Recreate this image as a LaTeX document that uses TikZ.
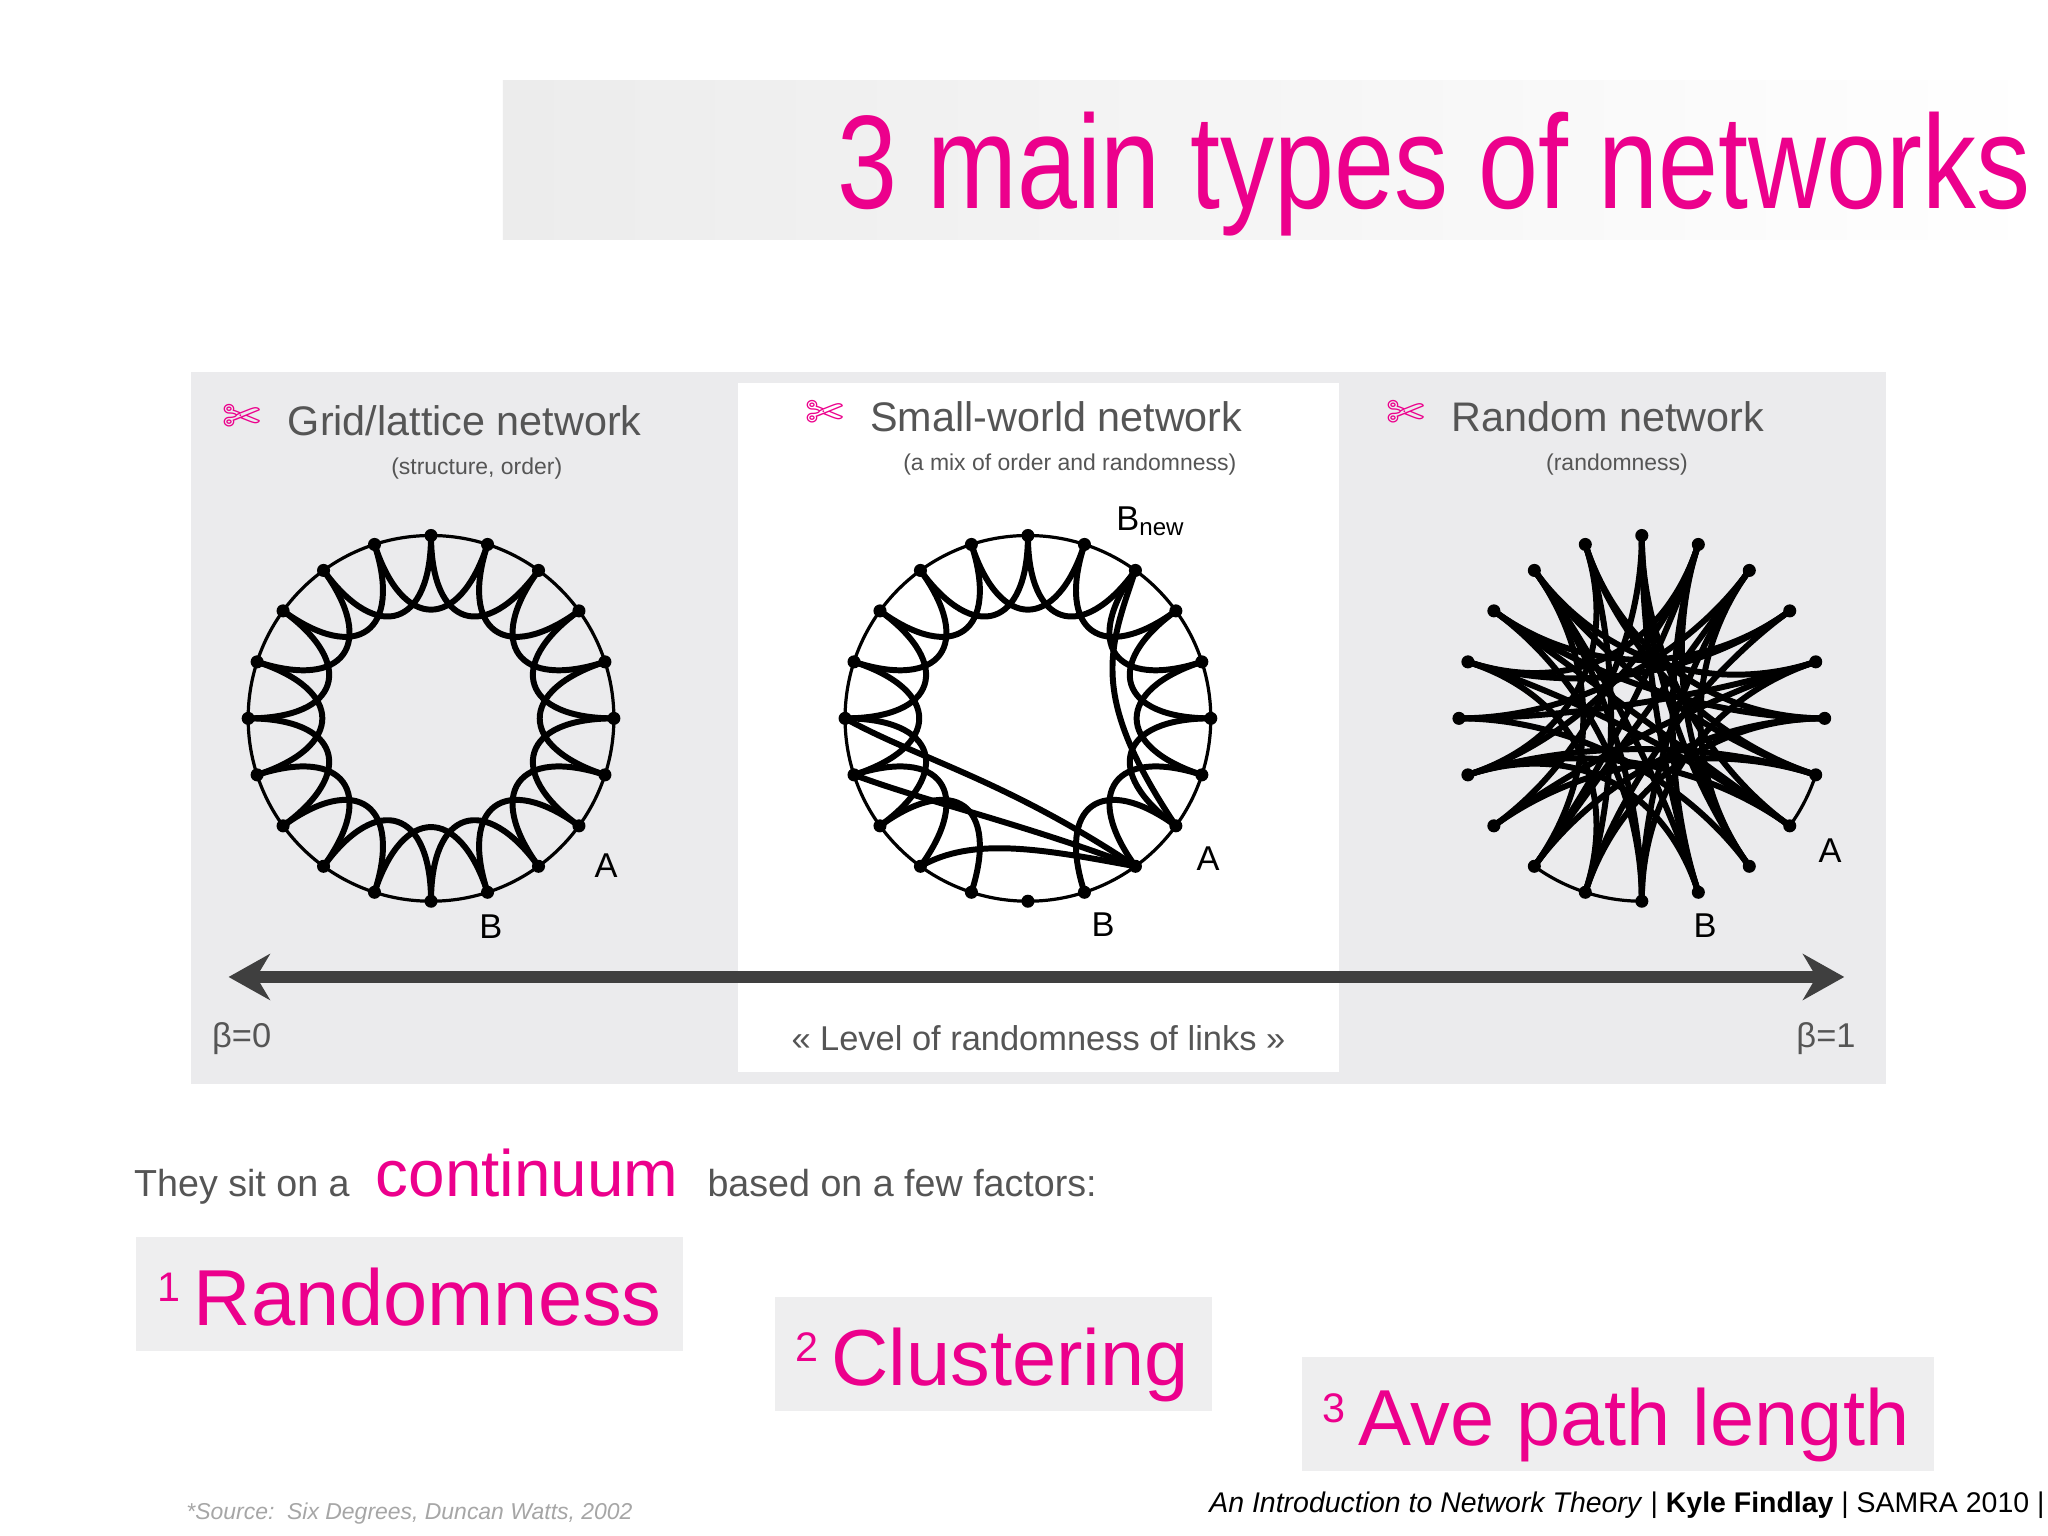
\documentclass[tikz,border=0pt]{standalone}
\usepackage{fontspec}
\setmainfont{Liberation Sans}
\newfontfamily\dejavu{DejaVu Sans}
\usetikzlibrary{arrows.meta}
\definecolor{mag}{HTML}{EC008C}
\definecolor{txt}{HTML}{555555}
\definecolor{panel}{HTML}{EBEBED}
\definecolor{boxg}{HTML}{EEEEEF}
\definecolor{arr}{HTML}{3F3F3F}
\tikzset{
  ring/.style={line width=0.7pt},
  lp/.style={line width=1.3pt},
  head/.style={font=\fontsize{9}{10}\selectfont, text=txt, anchor=west},
  sub/.style={font=\fontsize{5}{6}\selectfont, text=txt},
  lab/.style={font=\fontsize{7.5}{8}\selectfont}
}
\newcommand{\scis}{{\dejavu\color{mag}\fontsize{10}{10}\selectfont ✄}}
\newcommand{\fnum}[1]{\raisebox{0.3em}{\fontsize{9}{9}\selectfont #1}\,}
\begin{document}
\begin{tikzpicture}
\useasboundingbox[fill=white] (0,0) rectangle (15.68,-11.76);
% title band
\shade[left color=gray!15, right color=white] (3.85,-0.62) rectangle (15.68,-1.83);
\node[anchor=base east, inner sep=0pt, text=mag, font=\fontsize{29}{29}\selectfont] (title) at (15.55,-1.60) {\scalebox{0.81}[1]{3 main types of networks}};
% panel
\fill[panel] (1.46,-2.85) rectangle (14.44,-8.30);
\fill[white] (5.65,-2.93) rectangle (10.25,-8.21);
% headings
\node[anchor=west] (s1) at (1.58,-3.20) {\scis};
\node[head] (h1) at (2.08,-3.22) {Grid/lattice network};
\node[sub] (u1) at (3.65,-3.59) {(structure, order)};
\node[anchor=west] (s2) at (6.04,-3.17) {\scis};
\node[head] (h2) at (6.54,-3.19) {Small-world network};
\node[sub] (u2) at (8.19,-3.56) {(a mix of order and randomness)};
\node[anchor=west] (s3) at (10.49,-3.17) {\scis};
\node[head] (h3) at (10.99,-3.19) {Random network};
\node[sub] (u3) at (12.38,-3.56) {(randomness)};
\def\R{1.4}
% lattice
\begin{scope}[shift={(3.30,-5.50)}]
\draw[ring] (0,0) circle (\R);
\foreach \k in {0,...,19}{\pgfmathsetmacro\a{90+18*\k}\pgfmathsetmacro\b{\a+36}
  \draw[lp] (\a:\R) .. controls (\a:0.7) and (\b:0.7) .. (\b:\R);}
\foreach \k in {0,...,19}{\fill (90+18*\k:\R) circle (0.05);}
\node[lab] (A1) at (-40:1.75) {A};
\node[lab] (B1) at (-74:1.66) {B};
\end{scope}
% small world
\begin{scope}[shift={(7.87,-5.50)}]
\draw[ring] (0,0) circle (\R);
\foreach \k in {0,...,7,11,12,13,14,15,16,17,18,19}{\pgfmathsetmacro\a{90+18*\k}\pgfmathsetmacro\b{\a+36}
  \draw[lp] (\a:\R) .. controls (\a:0.7) and (\b:0.7) .. (\b:\R);}
\draw[lp] (306:\R) .. controls (250:0.5) and (200:0.9) .. (180:\R);
\draw[lp] (306:\R) .. controls (265:0.8) and (220:1.0) .. (198:\R);
\draw[lp] (306:\R) .. controls (275:1.0) and (245:1.0) .. (234:\R);
\draw[lp] (324:\R) .. controls (20:0.5) and (40:0.8) .. (54:\R);
\foreach \k in {0,...,19}{\fill (90+18*\k:\R) circle (0.05);}
\node[lab] (A2) at (-38:1.75) {A};
\node[lab] (B2) at (-70:1.68) {B};
\node[lab] (Bn) at (58:1.78) {B\textsubscript{new}};
\end{scope}
% random
\begin{scope}[shift={(12.57,-5.50)}]
\foreach \p/\q in {0/7,0/12,1/9,1/14,2/11,2/16,3/10,3/15,4/13,4/17,5/12,5/18,6/14,6/19,7/16,8/15,8/19,9/17,10/18,11/19,13/0,2/8,12/18,6/11,1/6,3/13,4/9,7/14,9/15,10/16,12/19,14/2,15/1,16/5,17/3,18/8,19/4,11/0,13/6,10/2}{
  \pgfmathsetmacro\a{90+18*\p}\pgfmathsetmacro\b{90+18*\q}
  \draw[lp] (\a:\R) .. controls (\a:0.55) and (\b:0.55) .. (\b:\R);}
\draw[ring] (-126:\R) arc (-126:-90:\R);
\draw[ring] (-36:\R) arc (-36:-18:\R);
\foreach \k in {0,...,19}{\fill (90+18*\k:\R) circle (0.05);}
\node[lab] (A3) at (-35:1.76) {A};
\node[lab] (B3) at (-73:1.66) {B};
\end{scope}
% continuum arrow
\coordinate (L) at (1.75,-7.48);
\coordinate (Rr) at (14.12,-7.48);
\draw[arr, line width=2.6pt, {Stealth[length=9pt,width=10pt]}-{Stealth[length=9pt,width=10pt]}] (L) -- (Rr);
\node[lab, text=txt] (b0) at (1.85,-7.95) {β=0};
\node[lab, text=txt] (b1) at (13.98,-7.95) {β=1};
\node[lab, text=txt] (lvl) at (7.95,-7.95) {\textless\textless{} Level of randomness of links \textgreater\textgreater};
% continuum text
\node[anchor=base west, inner sep=0pt, text=txt, font=\fontsize{8.2}{9}\selectfont] (t1) at (1.02,-9.16) {They sit on a};
\node[anchor=base west, inner sep=0pt, text=mag, font=\fontsize{14.3}{16}\selectfont] (t2) at (2.87,-9.16) {continuum};
\node[anchor=base west, inner sep=0pt, text=txt, font=\fontsize{8.2}{9}\selectfont] (t3) at (5.41,-9.16) {based on a few factors:};
% factor boxes
\fill[boxg] (1.04,-9.47) rectangle (5.23,-10.34);
\fill[boxg] (5.93,-9.93) rectangle (9.28,-10.80);
\fill[boxg] (9.97,-10.39) rectangle (14.81,-11.26);
\node[anchor=base west, inner sep=0pt, text=mag, font=\fontsize{17.3}{18}\selectfont] (f1) at (1.20,-10.15) {\fnum{1}Randomness};
\node[anchor=base west, inner sep=0pt, text=mag, font=\fontsize{17.3}{18}\selectfont] (f2) at (6.08,-10.61) {\fnum{2}Clustering};
\node[anchor=base west, inner sep=0pt, text=mag, font=\fontsize{17.3}{18}\selectfont] (f3) at (10.12,-11.07) {\fnum{3}Ave path length};
% footer
\node[anchor=base west, inner sep=0pt, text=gray!70, font=\itshape\fontsize{5}{6}\selectfont] (src) at (1.42,-11.63) {*Source:\ \ Six Degrees, Duncan Watts, 2002};
\node[anchor=base east, inner sep=0pt, font=\fontsize{6.2}{7}\selectfont] (ft) at (15.66,-11.58) {\textit{An Introduction to Network Theory} | \textbf{Kyle Findlay} | SAMRA 2010 |};
\end{tikzpicture}
\end{document}
